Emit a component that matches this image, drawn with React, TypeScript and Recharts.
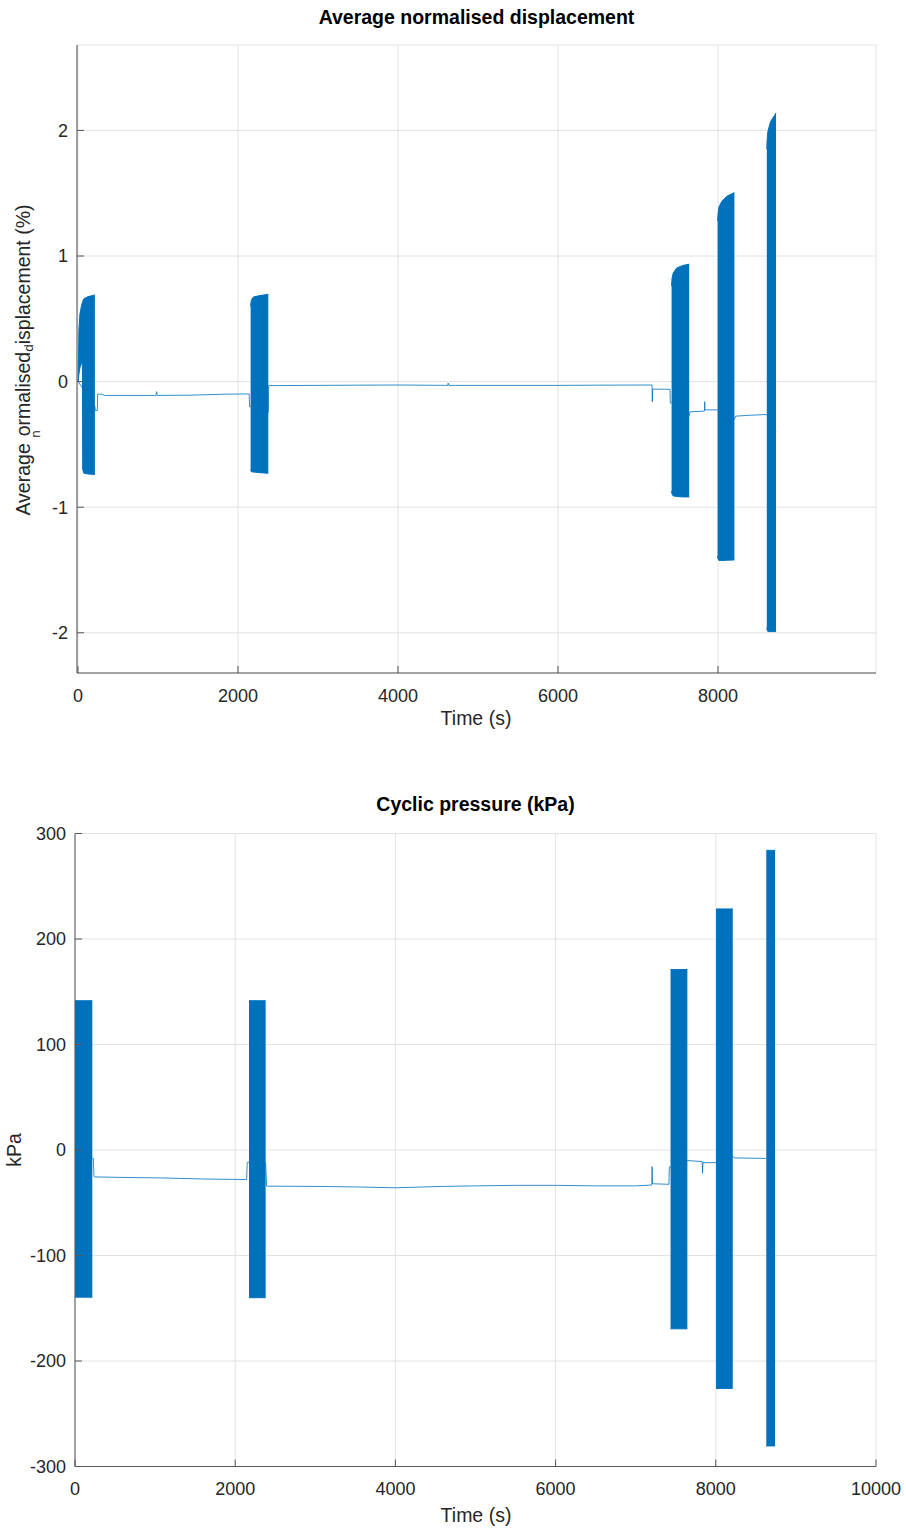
import React from "react";
import { ComposedChart, Line, Area, XAxis, YAxis, CartesianGrid } from "recharts";

const FONT = '"Liberation Sans", Arial, Helvetica, sans-serif';
const BLUE = "#0072BD";
const AXIS = "#555555";
const GRID = "#e2e2e2";
const TEXT = "#262626";

// ---- Average normalised displacement (%) ----
const dispTicksX = [0, 2000, 4000, 6000, 8000];
const dispTicksY = [-2, -1, 0, 1, 2];

// quasi-static line between the cyclic stages
const dispBaseT = [
  0, 3, 213, 216, 242, 246, 300, 330, 975, 983, 991, 1400, 1850, 2140, 2145, 2158,
  2380, 2384, 3000, 3600, 4000, 4620, 4628, 4636, 5200, 6000, 6600, 7175, 7179, 7184,
  7400, 7404, 7420, 7642, 7650, 7830, 7834, 7838, 7995, 8207, 8220, 8400, 8608, 8725,
];
const dispBaseV = [
  0, 0, -0.2, -0.23, -0.23, -0.1, -0.1, -0.11, -0.11, -0.08, -0.11, -0.108, -0.1, -0.098, -0.2, -0.2,
  -0.245, -0.032, -0.03, -0.028, -0.027, -0.03, -0.012, -0.03, -0.03, -0.03, -0.028, -0.027, -0.16, -0.06,
  -0.061, -0.17, -0.17, -0.27, -0.24, -0.235, -0.16, -0.225, -0.225, -0.3, -0.275, -0.268, -0.262, -0.4,
];

// cyclic stages: envelope of the oscillation (time, lower, upper)
const dispBlockT = [
  [3, 12, 25, 46, 56, 59, 75, 120, 212],
  [2158, 2165, 2180, 2200, 2275, 2379],
  [7420, 7425, 7440, 7485, 7560, 7640],
  [7995, 8000, 8012, 8046, 8110, 8205],
  [8610, 8614, 8623, 8657, 8708, 8725],
];
const dispBlockLo = [
  [0, 0.06, 0.11, 0.15, 0.17, -0.7, -0.73, -0.735, -0.74],
  [-0.7, -0.715, -0.72, -0.72, -0.725, -0.73],
  [-0.87, -0.895, -0.91, -0.915, -0.918, -0.918],
  [-1.39, -1.41, -1.425, -1.425, -1.422, -1.42],
  [-1.96, -1.98, -1.99, -1.99, -1.99, -1.99],
];
const dispBlockHi = [
  [0, 0.41, 0.54, 0.61, 0.63, 0.64, 0.66, 0.675, 0.69],
  [0.6, 0.64, 0.665, 0.675, 0.685, 0.695],
  [0.76, 0.82, 0.865, 0.905, 0.925, 0.935],
  [1.28, 1.33, 1.39, 1.433, 1.475, 1.505],
  [1.85, 1.92, 1.99, 2.07, 2.12, 2.14],
];

// ---- Cyclic pressure (kPa) ----
const presTicksX = [0, 2000, 4000, 6000, 8000, 10000];
const presTicksY = [-300, -200, -100, 0, 100, 200, 300];

const presBaseT = [
  216, 229, 236, 241, 600, 1100, 1600, 2143, 2150, 2172,
  2380, 2392, 3000, 3500, 4000, 4600, 5000, 5500, 6000, 6500, 7000, 7200, 7205, 7210,
  7415, 7420, 7435, 7648, 7830, 7834, 7840, 8003, 8213, 8230, 8630,
];
const presBaseV = [
  -8, -8, -24, -25.5, -26, -26.5, -27.5, -28, -11.7, -11.7,
  -12, -34.3, -34.5, -35, -35.8, -34.5, -34, -33.5, -33.5, -34, -34, -33.2, -15.8, -32,
  -32.5, -16, -16, -10, -11, -22, -12, -12, -6, -7.5, -8,
];

const presBlockT = [
  [0, 108, 216],
  [2172, 2276, 2380],
  [7435, 7540, 7645],
  [8003, 8108, 8212],
  [8630, 8685, 8740],
];
const presBlockLo = [
  [-139.5, -139.5, -139.5],
  [-140, -140, -140],
  [-169.5, -169.5, -169.5],
  [-226, -226, -226],
  [-280.5, -280.5, -280.5],
];
const presBlockHi = [
  [141.5, 141.5, 141.5],
  [141.5, 141.5, 141.5],
  [171, 171, 171],
  [228.5, 228.5, 228.5],
  [284, 284, 284],
];

type Row = { t: number; [k: string]: any };

function buildRows(
  baseT: number[],
  baseV: number[],
  blockT: number[][],
  blockLo: number[][],
  blockHi: number[][]
): Row[] {
  const map = new Map<number, Row>();
  const get = (t: number) => {
    let r = map.get(t);
    if (!r) {
      r = { t };
      map.set(t, r);
    }
    return r;
  };
  baseT.forEach((t, i) => {
    get(t).base = baseV[i];
  });
  blockT.forEach((ts, b) =>
    ts.forEach((t, i) => {
      get(t)[`b${b}`] = [blockLo[b][i], blockHi[b][i]];
    })
  );
  return [...map.values()].sort((a, b) => a.t - b.t);
}

const dispRows = buildRows(dispBaseT, dispBaseV, dispBlockT, dispBlockLo, dispBlockHi);
const presRows = buildRows(presBaseT, presBaseV, presBlockT, presBlockLo, presBlockHi);

const tickStyle = { fill: TEXT, fontSize: 18, fontFamily: FONT };
const blank = () => "";

interface PanelProps {
  data: Row[];
  nBlocks: number;
  width: number;
  height: number;
  margin: { top: number; right: number; left: number; bottom: number };
  yWidth: number;
  xHeight: number;
  xDomain: [number, number];
  yDomain: [number, number];
  xTicks: number[];
  yTicks: number[];
}

function Panel(p: PanelProps) {
  return (
    <ComposedChart width={p.width} height={p.height} data={p.data} margin={p.margin}>
      <CartesianGrid stroke={GRID} strokeWidth={1} />
      <XAxis
        dataKey="t"
        type="number"
        domain={p.xDomain}
        ticks={p.xTicks}
        interval={0}
        allowDataOverflow
        height={p.xHeight}
        stroke={AXIS}
        tickSize={-7}
        tickMargin={23}
        tick={tickStyle}
      />
      <XAxis
        xAxisId="top"
        orientation="top"
        dataKey="t"
        type="number"
        domain={p.xDomain}
        ticks={p.xTicks}
        interval={0}
        allowDataOverflow
        height={0}
        stroke={AXIS}
        tickSize={-7}
        tickFormatter={blank}
      />
      <YAxis
        type="number"
        domain={p.yDomain}
        ticks={p.yTicks}
        interval={0}
        allowDataOverflow
        width={p.yWidth}
        stroke={AXIS}
        tickSize={-7}
        tickMargin={16}
        tick={tickStyle}
      />
      <YAxis
        yAxisId="right"
        orientation="right"
        type="number"
        domain={p.yDomain}
        ticks={p.yTicks}
        interval={0}
        allowDataOverflow
        width={0}
        stroke={AXIS}
        tickSize={-7}
        tickFormatter={blank}
      />
      <Line
        dataKey="base"
        type="linear"
        connectNulls
        dot={false}
        activeDot={false}
        stroke={BLUE}
        strokeWidth={0.8}
        isAnimationActive={false}
      />
      {Array.from({ length: p.nBlocks }, (_, b) => (
        <Area
          key={b}
          dataKey={`b${b}`}
          type="linear"
          connectNulls
          dot={false}
          activeDot={false}
          stroke={BLUE}
          strokeWidth={1}
          fill={BLUE}
          fillOpacity={1}
          isAnimationActive={false}
        />
      ))}
    </ComposedChart>
  );
}

export default function App() {
  return (
    <div style={{ position: "absolute", left: 0, top: 0, width: 906, height: 1528, background: "#fff" }}>
      <div style={{ position: "absolute", left: 0, top: 0 }}>
        <Panel
          data={dispRows}
          nBlocks={dispBlockT.length}
          width={906}
          height={760}
          margin={{ top: 45, right: 30, left: 0, bottom: 0 }}
          yWidth={77}
          xHeight={87}
          xDomain={[-12, 9975]}
          yDomain={[-2.32, 2.68]}
          xTicks={dispTicksX}
          yTicks={dispTicksY}
        />
      </div>
      <div style={{ position: "absolute", left: 0, top: 780 }}>
        <Panel
          data={presRows}
          nBlocks={presBlockT.length}
          width={906}
          height={748}
          margin={{ top: 53.5, right: 30, left: 0, bottom: 0 }}
          yWidth={75}
          xHeight={61.5}
          xDomain={[0, 10000]}
          yDomain={[-300, 300]}
          xTicks={presTicksX}
          yTicks={presTicksY}
        />
      </div>
      <svg
        width={906}
        height={1528}
        style={{ position: "absolute", left: 0, top: 0, pointerEvents: "none" }}
        fontFamily={FONT}
      >
        <text x={476.5} y={24} textAnchor="middle" fontSize={19.5} fontWeight="bold" fill="#000">
          Average normalised displacement
        </text>
        <text x={476} y={725} textAnchor="middle" fontSize={19.5} fill={TEXT}>
          Time (s)
        </text>
        <text
          x={30}
          y={360}
          textAnchor="middle"
          fontSize={19.5}
          fill={TEXT}
          transform="rotate(-90 30 360)"
        >
          Average{" "}
          <tspan fontSize={13.5} dy={10}>n</tspan>
          <tspan dx={-6} dy={-10}>ormalised</tspan>
          <tspan fontSize={13.5} dy={3}>d</tspan>
          <tspan dy={-3}>isplacement (%)</tspan>
        </text>
        <text x={475.5} y={811} textAnchor="middle" fontSize={19.5} fontWeight="bold" fill="#000">
          Cyclic pressure (kPa)
        </text>
        <text x={476} y={1522} textAnchor="middle" fontSize={19.5} fill={TEXT}>
          Time (s)
        </text>
        <text
          x={21}
          y={1150}
          textAnchor="middle"
          fontSize={19.5}
          fill={TEXT}
          transform="rotate(-90 21 1150)"
        >
          kPa
        </text>
      </svg>
    </div>
  );
}
